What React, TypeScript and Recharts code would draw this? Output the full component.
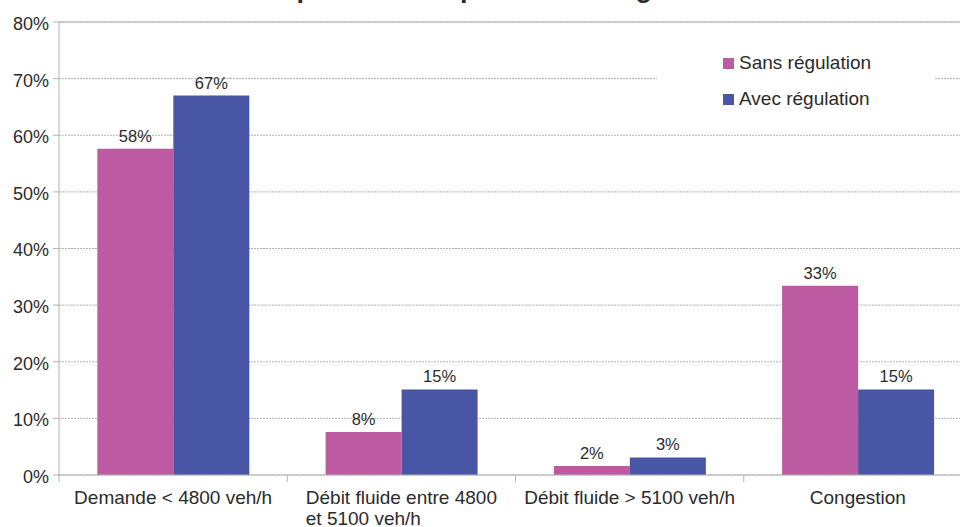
import React from "react";
import { BarChart, Bar, XAxis, YAxis, CartesianGrid, Legend, LabelList, ReferenceLine } from "recharts";

const categories = [
  "Demande < 4800 veh/h",
  "Débit fluide entre 4800\net 5100 veh/h",
  "Débit fluide > 5100 veh/h",
  "Congestion",
];
const sansRegulation = [57.6, 7.6, 1.6, 33.4];
const avecRegulation = [67.0, 15.1, 3.1, 15.1];
const yTicks = [0, 10, 20, 30, 40, 50, 60, 70, 80];
const seriesNames = ["Sans régulation", "Avec régulation"];
const title = "Répartition temporelle des régimes de trafic";

const data = categories.map((c, i) => ({
  name: c,
  sans: sansRegulation[i],
  avec: avecRegulation[i],
}));

const FONT = '"Liberation Sans", Arial, sans-serif';
const TEXT = "#2b2b2b";
const GRID = "#b3b3b3";
const PINK = "#bc5ba2";
const BLUE = "#4856a5";

const CHART_W = 990;
const CHART_H = 527;
const MARGIN = { top: 22, right: 18, left: 0, bottom: 0 };
const Y_W = 59;
const BAND = (CHART_W - MARGIN.left - MARGIN.right - Y_W) / categories.length;

let ctx: CanvasRenderingContext2D | null = null;
function measure(s: string, size: number) {
  if (!ctx) {
    ctx = document.createElement("canvas").getContext("2d");
  }
  if (!ctx) return s.length * size * 0.5;
  ctx.font = `${size}px "Liberation Sans"`;
  return ctx.measureText(s).width;
}

const XTick = (props: any) => {
  const { x, y, payload, index } = props;
  const lines: string[] = String(payload.value).split("\n");
  const size = 19;
  const widths = lines.map((l) => measure(l, size));
  const w = Math.max(...widths);
  const multi = lines.length > 1;
  return (
    <g>
      <line x1={x - BAND / 2} x2={x - BAND / 2} y1={y} y2={y + 7} stroke={GRID} />
      {index === categories.length - 1 && (
        <line x1={x + BAND / 2} x2={x + BAND / 2} y1={y} y2={y + 7} stroke={GRID} />
      )}
      {lines.map((l, i) => (
        <text
          key={i}
          x={multi ? x - w / 2 : x}
          y={y + 28.5 + i * 21.7}
          textAnchor={multi ? "start" : "middle"}
          fontSize={size}
          fontFamily={FONT}
          fill={TEXT}
        >
          {l}
        </text>
      ))}
    </g>
  );
};

const YTick = (props: any) => {
  const { x, y, payload } = props;
  return (
    <text x={x} y={y + 1.5} dy="0.355em" textAnchor="end" fontSize={18} fontFamily={FONT} fill={TEXT}>
      {`${payload.value}%`}
    </text>
  );
};

const LegendContent = () => (
  <div style={{ background: "#fff", width: 278, height: 80, paddingTop: 5, boxSizing: "border-box" }}>
    {[PINK, BLUE].map((c, i) => (
      <div key={i} style={{ display: "flex", alignItems: "center", height: 36, paddingLeft: 66 }}>
        <span style={{ display: "inline-block", width: 11, height: 11, background: c, marginRight: 5 }} />
        <span style={{ fontFamily: FONT, fontSize: 19, color: TEXT, lineHeight: "36px" }}>{seriesNames[i]}</span>
      </div>
    ))}
  </div>
);

export default function App() {
  return (
    <div style={{ position: "absolute", left: 0, top: 0, width: 960, height: 527, overflow: "hidden", background: "#fff" }}>
      <BarChart
        width={CHART_W}
        height={CHART_H}
        data={data}
        margin={MARGIN}
        barCategoryGap="16.8%"
        barGap={0}
      >
        <text x={262} y={-3} fontSize={27} fontWeight="bold" fontFamily={FONT} fill={TEXT}>
          {title}
        </text>
        <CartesianGrid vertical={false} stroke={GRID} strokeDasharray="2 1" />
        <ReferenceLine y={80} stroke={GRID} />
        <XAxis
          dataKey="name"
          axisLine={{ stroke: GRID }}
          tickLine={false}
          tickSize={0}
          tickMargin={0}
          height={CHART_H - 475}
          interval={0}
          tick={<XTick />}
        />
        <YAxis
          width={Y_W}
          domain={[0, 80]}
          ticks={yTicks}
          interval={0}
          axisLine={{ stroke: GRID }}
          tickLine={{ stroke: GRID }}
          tickSize={6}
          tickMargin={4}
          tick={<YTick />}
        />
        <Legend
          layout="horizontal"
          verticalAlign="middle"
          align="center"
          content={<LegendContent />}
          wrapperStyle={{ left: 657, top: 40, width: 278, height: 80 }}
        />
        <Bar dataKey="sans" name={seriesNames[0]} fill={PINK} isAnimationActive={false}>
          <LabelList
            dataKey="sans"
            position="top"
            offset={7}
            formatter={(v: any) => `${Math.round(Number(v))}%`}
            style={{ fontSize: 16.5, fontFamily: FONT, fill: TEXT }}
          />
        </Bar>
        <Bar dataKey="avec" name={seriesNames[1]} fill={BLUE} isAnimationActive={false}>
          <LabelList
            dataKey="avec"
            position="top"
            offset={7}
            formatter={(v: any) => `${Math.round(Number(v))}%`}
            style={{ fontSize: 16.5, fontFamily: FONT, fill: TEXT }}
          />
        </Bar>
      </BarChart>
    </div>
  );
}
